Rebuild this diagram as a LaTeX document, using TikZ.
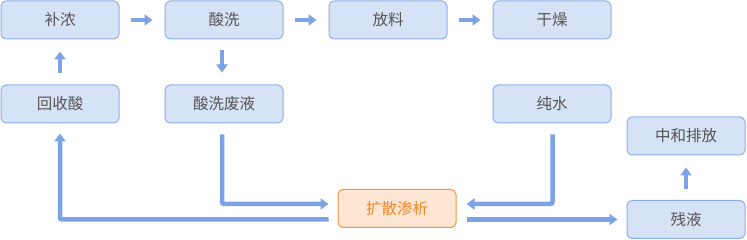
\documentclass[tikz,border=0pt]{standalone}
\usepackage{fontspec}
\setmainfont{Noto Sans CJK SC}
\usetikzlibrary{arrows.meta}
\definecolor{boxfill}{HTML}{D6E2F6}
\definecolor{boxline}{HTML}{8DAEE8}
\definecolor{flowc}{HTML}{7DA3E5}
\definecolor{orfill}{HTML}{FDE6D3}
\definecolor{orline}{HTML}{F7963A}
\definecolor{ortext}{HTML}{F4862A}
\definecolor{txt}{HTML}{555555}
\tikzset{
  stepbox/.style={draw=boxline, fill=boxfill, line width=1pt, rounded corners=5pt,
    minimum width=118pt, minimum height=38pt, inner sep=0pt, text=txt,
    font=\fontsize{15.5pt}{17pt}\selectfont},
  hotbox/.style={stepbox, draw=orline, fill=orfill, text=ortext},
  flow/.style={draw=flowc, line width=4.5pt, rounded corners=2pt,
    -{Triangle[width=11pt,length=8pt]}},
}
\begin{document}
\begin{tikzpicture}[x=1pt,y=-1pt]
\useasboundingbox (0,0) rectangle (747,240);
\node[stepbox] (bunong) at (60,20) {补浓};
\node[stepbox] (suanxi) at (224,20) {酸洗};
\node[stepbox] (fangliao) at (388,20) {放料};
\node[stepbox] (ganzao) at (552,20) {干燥};
\node[stepbox] (huishou) at (60,104) {回收酸};
\node[stepbox] (feiye) at (224,104) {酸洗废液};
\node[stepbox] (chunshui) at (552,104) {纯水};
\node[stepbox] (zhonghe) at (686,136) {中和排放};
\node[stepbox] (canye) at (686,219.5) {残液};
\node[hotbox] (kuosan) at (397,208.5) {扩散渗析};

\draw[flow, shorten <=11pt, shorten >=12pt] (bunong.east) -- (suanxi.west);
\draw[flow, shorten <=11pt, shorten >=12pt] (suanxi.east) -- (fangliao.west);
\draw[flow, shorten <=11pt, shorten >=12pt] (fangliao.east) -- (ganzao.west);
\draw[flow, shorten <=11pt, shorten >=12pt] (huishou.north) -- (bunong.south);
\draw[flow, shorten <=11pt, shorten >=12pt] ([xshift=-2pt]suanxi.south) -- ([xshift=-2pt]feiye.north);
\draw[flow, shorten <=11pt, shorten >=12pt] (canye.north) -- (zhonghe.south);

\draw[flow] ([xshift=-2pt,yshift=-11pt]feiye.south) |- ([xshift=-9pt,yshift=4.5pt]kuosan.west);
\draw[flow] ([xshift=0.5pt,yshift=-11pt]chunshui.south) |- ([xshift=10pt,yshift=4.5pt]kuosan.east);
\draw[flow] ([xshift=-9pt,yshift=-11pt]kuosan.west) -| ([yshift=-10pt]huishou.south);
\draw[flow, shorten <=10pt, shorten >=9pt] (kuosan.east |- canye.west) -- (canye.west);
\end{tikzpicture}
\end{document}
